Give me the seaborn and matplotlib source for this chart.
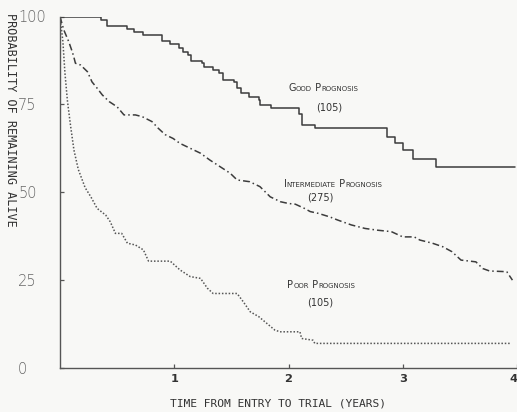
import matplotlib
matplotlib.use("Agg")
import matplotlib.pyplot as plt
import seaborn as sns
import pandas as pd

# ---- data ----
good_t = [0, 0.36, 0.41, 0.59, 0.645, 0.73, 0.89, 0.965, 1.04, 1.08, 1.12, 1.15, 1.24, 1.26,
          1.34, 1.39, 1.43, 1.52, 1.55, 1.58, 1.65, 1.74, 1.75, 1.85, 2.09, 2.115, 2.23,
          2.86, 2.93, 3.00, 3.09, 3.29, 3.98]
good_s = [100, 99.1, 97.3, 96.4, 95.7, 94.7, 93.0, 92.1, 91.0, 90.0, 89.0, 87.4, 86.7, 85.7,
          84.8, 83.8, 81.9, 81.4, 79.6, 78.1, 77.0, 76.2, 74.8, 73.9, 72.4, 69.1, 68.2,
          65.8, 63.9, 62.0, 59.6, 57.1, 57.1]

inter_t = [0, 0.033, 0.077, 0.107, 0.12, 0.135, 0.18, 0.24, 0.28, 0.325, 0.37, 0.43, 0.50,
           0.56, 0.66, 0.72, 0.805, 0.86, 0.92, 0.99, 1.05, 1.14, 1.23, 1.31, 1.40, 1.49,
           1.55, 1.66, 1.75, 1.84, 1.93, 2.00, 2.06, 2.14, 2.19, 2.26, 2.36, 2.43, 2.55,
           2.67, 2.78, 2.90, 3.00, 3.10, 3.15, 3.26, 3.35, 3.43, 3.51, 3.64, 3.70, 3.76,
           3.91, 3.96]
inter_s = [100, 96.2, 92.8, 90.0, 88.6, 86.7, 86.2, 84.3, 81.4, 79.6, 77.7, 75.8, 74.3,
           72.0, 72.0, 71.5, 70.1, 68.2, 66.4, 65.3, 63.9, 62.5, 61.1, 59.2, 57.3, 55.4,
           53.5, 53.0, 51.6, 48.7, 47.3, 46.8, 46.6, 45.4, 44.5, 44.0, 43.0, 42.1, 40.7,
           39.7, 39.2, 38.8, 37.3, 37.3, 36.4, 35.5, 34.5, 33.1, 30.7, 30.2, 28.3, 27.6,
           27.4, 25.0]

poor_t = [0, 0.025, 0.043, 0.065, 0.092, 0.122, 0.16, 0.22, 0.27, 0.325, 0.40, 0.44, 0.485,
          0.54, 0.59, 0.66, 0.73, 0.775, 0.965, 1.05, 1.14, 1.23, 1.29, 1.34, 1.55, 1.605,
          1.665, 1.74, 1.81, 1.88, 1.925, 2.10, 2.115, 2.215, 2.23, 3.95]
poor_s = [100, 93.0, 84.0, 76.0, 69.0, 62.0, 56.5, 51.3, 48.7, 45.4, 43.5, 41.6, 38.3,
          38.3, 35.5, 35.0, 33.6, 30.4, 30.4, 27.9, 26.0, 25.5, 22.7, 21.2, 21.2, 18.8,
          16.0, 14.6, 12.7, 10.8, 10.3, 10.3, 8.4, 7.9, 7.0, 7.0]

x_ticks = [1, 2, 3, 4]
y_ticks = [0, 25, 50, 75, 100]
y_ticklabels = ["0", "25", "50", "75", "100"]

# ---- figure ----
sns.set_theme(style="ticks")
plt.rcParams["font.family"] = ["DejaVu Sans"]
BG = "#f8f8f6"
INK = "#3c3c3c"

W, H = 517, 412
fig = plt.figure(figsize=(W / 100, H / 100), dpi=100, facecolor=BG)
ax = fig.add_axes([60 / W, (H - 368) / H, (W - 60) / W, (368 - 16.5) / H])
ax.set_facecolor(BG)

df_good = pd.DataFrame({"t": good_t, "s": good_s})
df_int = pd.DataFrame({"t": inter_t, "s": inter_s})
df_poor = pd.DataFrame({"t": poor_t, "s": poor_s})

sns.lineplot(data=df_good, x="t", y="s", ax=ax, color=INK, lw=1.1,
             drawstyle="steps-post", estimator=None, sort=False)
sns.lineplot(data=df_int, x="t", y="s", ax=ax, color=INK, lw=1.1,
             linestyle=(0, (4.5, 2, 1, 2)), estimator=None, sort=False)
sns.lineplot(data=df_poor, x="t", y="s", ax=ax, color="#555555", lw=1.1,
             linestyle=(0, (1, 1.2)), estimator=None, sort=False)

ax.set_xlim(0, 4)
ax.set_ylim(0, 100)
ax.set_xlabel("")
ax.set_ylabel("")
sns.despine(ax=ax)
for sp in ("left", "bottom"):
    ax.spines[sp].set_color("#555555")
    ax.spines[sp].set_linewidth(1.0)

ax.set_xticks(x_ticks)
ax.set_xticklabels([str(v) for v in x_ticks], fontweight="bold", fontsize=8.2, color="#333333")
ax.get_xticklabels()[-1].set_horizontalalignment("right")
ax.set_yticks(y_ticks)
ax.set_yticklabels(y_ticklabels, fontsize=10.5, color="#666666", fontweight="light")
ax.tick_params(axis="both", direction="in", length=3, width=0.9, color="#555555")
ax.tick_params(axis="x", pad=4)
ax.tick_params(axis="y", pad=30.2)
for lab in ax.get_yticklabels():
    lab.set_horizontalalignment("left")

MONO = "DejaVu Sans Mono"
fig.text(278 / W, 1 - 403 / H, "TIME FROM ENTRY TO TRIAL (YEARS)", ha="center", va="center",
         fontsize=8.1, family=MONO, color="#333333")
fig.text(10 / W, 1 - 120 / H, "PROBABILITY OF REMAINING ALIVE", ha="center", va="center",
         rotation=270, fontsize=8.5, family=MONO, color="#333333")

renderer = fig.canvas.get_renderer()


def small_caps(x, y, text, big=7.0, small=5.0):
    pieces = []
    for ch in text:
        is_big = ch.isupper() or ch == " "
        size = big if is_big else small
        if pieces and pieces[-1][1] == size:
            pieces[-1][0] += ch.upper()
        else:
            pieces.append([ch.upper(), size])
    # start position in display coords
    x0, y0 = ax.transData.transform((x, y))
    cur = x0
    for s, size in pieces:
        xd, yd = ax.transData.inverted().transform((cur, y0))
        t = ax.text(xd, yd, s, fontsize=size, ha="left", va="baseline",
                    color="#333333", family="DejaVu Sans")
        bb = t.get_window_extent(renderer)
        cur = bb.x1


small_caps(2.00, 78.8, "Good Prognosis")
ax.text(2.24, 74.0, "(105)", fontsize=7.0, ha="left", va="center", color="#333333")
small_caps(1.96, 51.6, "Intermediate Prognosis")
ax.text(2.16, 48.6, "(275)", fontsize=7.0, ha="left", va="center", color="#333333")
small_caps(1.99, 22.7, "Poor Prognosis")
ax.text(2.16, 18.5, "(105)", fontsize=7.0, ha="left", va="center", color="#333333")

fig.savefig("out.png", dpi=100, facecolor=BG)
